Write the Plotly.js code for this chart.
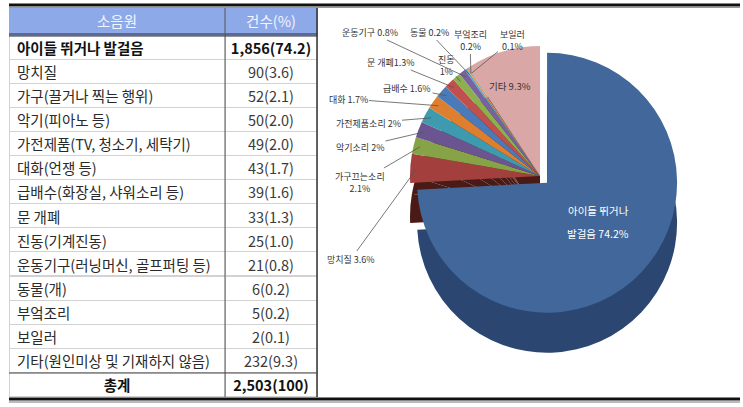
<!DOCTYPE html>
<html><head><meta charset="utf-8">
<script src="https://cdn.plot.ly/plotly-3.0.1.min.js"></script>
<style>html,body{margin:0;padding:0;background:#fff}#chart{width:743px;height:407px}</style>
</head><body><div id="chart"></div>
<script>
// ---------- data ----------
const headerLabels = ['소음원', '건수(%)'];
const categories = ['아이들 뛰거나 발걸음', '망치질', '가구(끌거나 찍는 행위)', '악기(피아노 등)',
  '가전제품(TV, 청소기, 세탁기)', '대화(언쟁 등)', '급배수(화장실, 샤워소리 등)', '문 개폐',
  '진동(기계진동)', '운동기구(러닝머신, 골프퍼팅 등)', '동물(개)', '부엌조리', '보일러',
  '기타(원인미상 및 기재하지 않음)'];
const counts = [1856, 90, 52, 50, 49, 43, 39, 33, 25, 21, 6, 5, 2, 232];
const totalLabel = '총계';
const pieNames = ['아이들 뛰거나', '망치질', '가구끄는소리', '악기소리', '가전제품소리', '대화',
  '급배수', '문 개폐', '진동', '운동기구', '동물', '부엌조리', '보일러', '기타'];
const pieNameSecond = ['발걸음', '', '', '', '', '', '', '', '', '', '', '', '', ''];

// ---------- styles / layout constants ----------
const W = 743, H = 407;
const FONT = '"Noto Sans CJK KR", "Noto Sans", sans-serif';
const topColors = ['#41679B', '#A33F3C', '#86A348', '#6A5591', '#3E9AAF', '#DE7F30', '#4A7BB8',
  '#C0504D', '#8DB04F', '#7A62A0', '#4BACC6', '#F79646', '#4F81BD', '#D9A8A6'];
const sideColors = counts.map((c, i) => i === 0 ? '#2B4771' : '#4A1A16');
const PIE = {cx: 540, cy: 176, r: 130, pull: 0.075, depth: 40};
// label placement for the small slices: [x, y, separator]
const labelPos = {
  1: [351, 259, ' '], 2: [360, 182, '<br>'], 3: [360, 147, ' '], 4: [368, 123, ' '],
  5: [348, 99, ' '], 6: [407, 88, ' '], 7: [391, 62, ''], 8: [446, 65, '<br>'],
  9: [370, 32, ' '], 10: [429, 32, ' '], 11: [470, 40, '<br>'], 12: [512, 40, '<br>']
};
const bigLabelPos = [[598, 210], [598, 233]];   // two lines of the biggest slice label
const otherLabelPos = [510, 86];               // label of the '기타' slice

// ---------- derived ----------
const total = counts.reduce((a, b) => a + b, 0);
const pctVal = counts.map(c => c / total * 100);
const pctTable = pctVal.map(p => p.toFixed(1));
const pctPie = pctVal.map(p => { const s = p.toFixed(1); return s.endsWith('.0') ? s.slice(0, -2) : s; });
const fmt = n => n.toLocaleString('en-US');

const col1 = categories.concat([totalLabel]);
const col2 = counts.map((c, i) => fmt(c) + '(' + pctTable[i] + ')').concat([fmt(total) + '(100)']);
const nRows = col1.length;
const weights = col1.map((c, i) => (i === 0 || i === nRows - 1) ? 700 : 400);
const align1 = col1.map((c, i) => i === nRows - 1 ? 'center' : 'left');
const colors1 = col1.map((c, i) => (i === 0 || i === nRows - 1) ? '#111' : '#2a2a2a');
const colors2 = col1.map((c, i) => (i === 0 || i === nRows - 1) ? '#111' : '#3a3a3a');

const tableTrace = {
  type: 'table',
  domain: {x: [9 / W, 317 / W], y: [1 - 398 / H, 1 - 8 / H]},
  columnwidth: [216, 92],
  header: {
    values: headerLabels,
    align: 'center',
    height: 27,
    fill: {color: '#8EA9E8'},
    line: {color: '#8EA9E8', width: 1},
    font: {family: FONT, size: 14.5, color: '#F2F5FF'}
  },
  cells: {
    values: [col1, col2],
    align: [align1, 'center'],
    height: 24.1,
    fill: {color: '#ffffff'},
    line: {color: '#D2D2D2', width: 1},
    font: {family: FONT, size: 14.5, color: [colors1, colors2], weight: [weights, weights]}
  }
};

function pieDomain(dy) {
  const h = PIE.r * (1 + PIE.pull);
  return {x: [(PIE.cx - h) / W, (PIE.cx + h) / W],
          y: [1 - (PIE.cy + dy + h) / H, 1 - (PIE.cy + dy - h) / H]};
}
const pulls = counts.map((c, i) => i === 0 ? PIE.pull : 0);
const sideTrace = {
  type: 'pie', values: counts, labels: pieNames, sort: false, direction: 'clockwise', rotation: 0,
  pull: pulls, domain: pieDomain(PIE.depth), textinfo: 'none', hoverinfo: 'skip',
  marker: {colors: sideColors, line: {width: 0}}, showlegend: false
};
const topTrace = {
  type: 'pie', values: counts, labels: pieNames, sort: false, direction: 'clockwise', rotation: 0,
  pull: pulls, domain: pieDomain(0), textinfo: 'none',
  hoverinfo: 'label+percent',
  marker: {colors: topColors, line: {width: 0}}, showlegend: false
};
const dummy = {type: 'scatter', x: [], y: [], xaxis: 'x', yaxis: 'y', showlegend: false, hoverinfo: 'skip'};

// annotations for small slices (tips derived from data angles)
const annotations = [];
let cum = 0;
counts.forEach((c, i) => {
  const mid = (cum + c / 2) / total * 2 * Math.PI;
  cum += c;
  if (!labelPos[i]) return;
  const k = 0.95;
  const tx = PIE.cx + k * PIE.r * Math.sin(mid);
  const ty = PIE.cy - k * PIE.r * Math.cos(mid);
  const p = labelPos[i];
  annotations.push({
    xref: 'x', yref: 'y', axref: 'x', ayref: 'y', x: tx, y: ty, ax: p[0], ay: p[1],
    text: pieNames[i] + p[2] + pctPie[i] + '%', showarrow: true, arrowhead: 0,
    arrowwidth: 0.8, arrowcolor: '#555', standoff: 0,
    font: {family: FONT, size: 9, color: '#333'}
  });
});
const last = counts.length - 1;
annotations.push({xref: 'x', yref: 'y', x: bigLabelPos[0][0], y: bigLabelPos[0][1], showarrow: false,
  text: pieNames[0], font: {family: FONT, size: 10.5, color: '#fff'}});
annotations.push({xref: 'x', yref: 'y', x: bigLabelPos[1][0], y: bigLabelPos[1][1], showarrow: false,
  text: pieNameSecond[0] + ' ' + pctPie[0] + '%', font: {family: FONT, size: 10.5, color: '#fff'}});
annotations.push({xref: 'x', yref: 'y', x: otherLabelPos[0], y: otherLabelPos[1], showarrow: false,
  text: pieNames[last] + ' ' + pctPie[last] + '%', font: {family: FONT, size: 9.5, color: '#333'}});

const line = (x0, y0, x1, y1, color, width) => ({type: 'line', xref: 'x', yref: 'y', x0, y0, x1, y1,
  line: {color, width}, layer: 'above'});
const shapes = [
  line(9, 5, 740, 5, '#111', 3), line(9, 7.5, 740, 7.5, '#999', 1),
  line(9, 34, 317, 34, '#2a2a3a', 1), line(9, 36, 317, 36, '#2a2a3a', 1),
  line(225, 8, 225, 397, '#555', 1), line(317, 8, 317, 397, '#333', 1.5),
  line(9, 373, 317, 373, '#444', 1),
  line(9, 399, 740, 399, '#111', 3), line(9, 402, 740, 402, '#777', 1)
];

const layout = {
  width: W, height: H, margin: {l: 0, r: 0, t: 0, b: 0, pad: 0},
  paper_bgcolor: '#fff', plot_bgcolor: 'rgba(0,0,0,0)', showlegend: false,
  font: {family: FONT},
  xaxis: {range: [0, W], visible: false, fixedrange: true},
  yaxis: {range: [H, 0], visible: false, fixedrange: true},
  shapes, annotations
};
Plotly.newPlot('chart', [dummy, tableTrace, sideTrace, topTrace], layout, {displayModeBar: false, staticPlot: true});
</script></body></html>
